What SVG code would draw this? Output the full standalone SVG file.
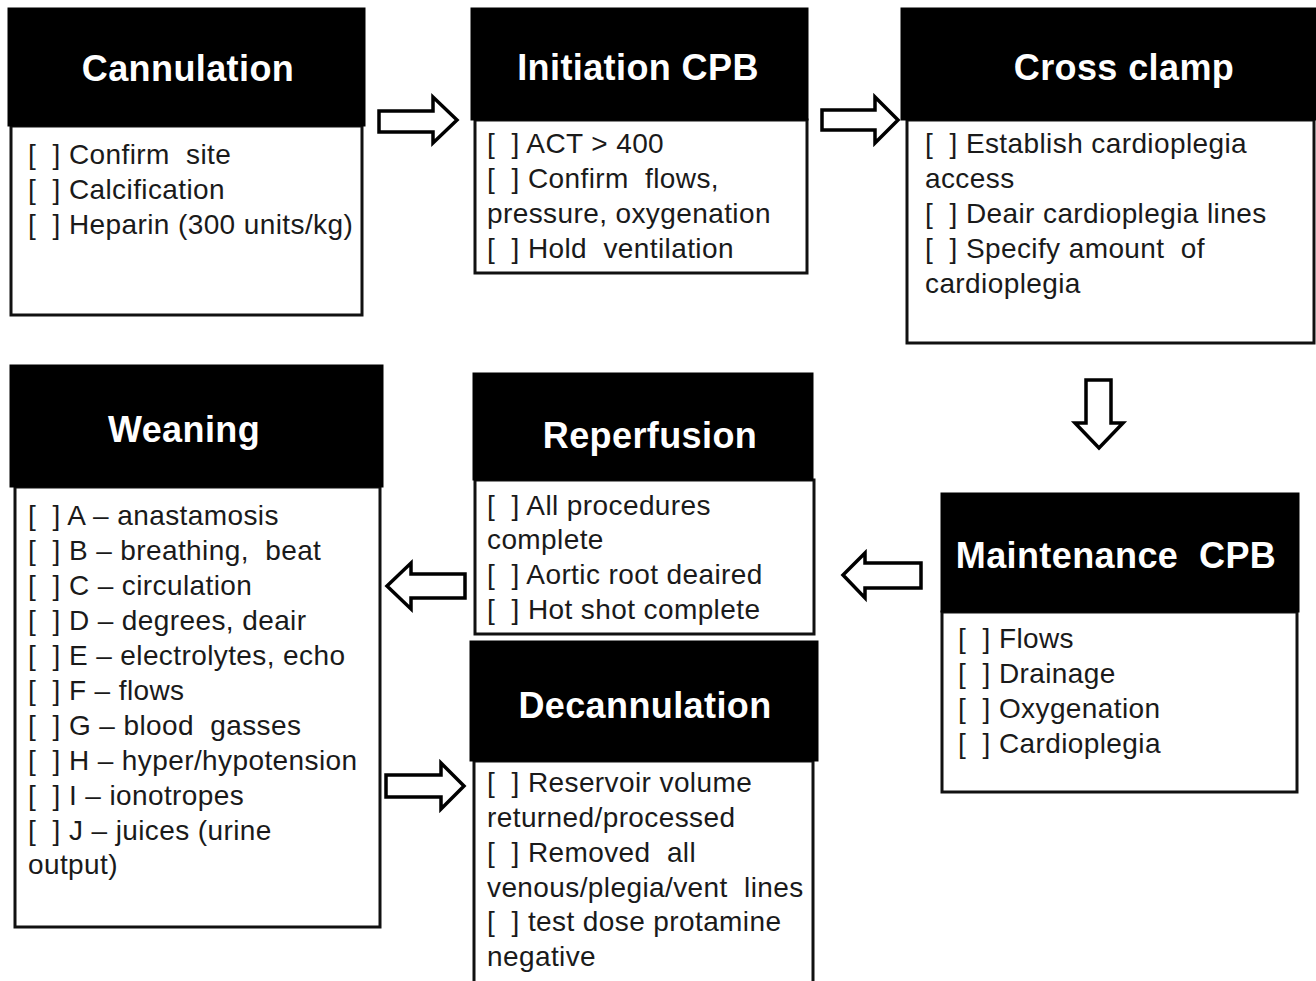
<svg xmlns="http://www.w3.org/2000/svg" width="1316" height="981" viewBox="0 0 1316 981">
<style>
.hdr{fill:#000;stroke:#000;stroke-width:1}
.body{fill:#fff;stroke:#111;stroke-width:3}
.title{font-family:"Liberation Sans",Arial,sans-serif;font-weight:bold;font-size:36px;fill:#fff;text-anchor:middle;letter-spacing:0.4px}
.item{font-family:"Liberation Sans",Arial,sans-serif;font-size:28px;fill:#1a1a1a;white-space:pre;letter-spacing:0.4px}
.arrow{fill:#fff;stroke:#000;stroke-width:3.5;stroke-linejoin:miter}
</style>
<rect width="1316" height="981" fill="#fff"/>
<g id="connectors">
<polygon class="arrow" points="379,111 433,111 433,97 457,120 433,143 433,132 379,132"/>
<polygon class="arrow" points="822,110 875,110 875,97 898,120 875,143 875,130 822,130"/>
<polygon class="arrow" points="1086,380 1111,380 1111,423 1123,423 1099,448 1075,423 1086,423"/>
<polygon class="arrow" points="921,563 865,563 865,553 843,575 865,598 865,588 921,588"/>
<polygon class="arrow" points="465,574 411,574 411,563 387,586 411,609 411,598 465,598"/>
<polygon class="arrow" points="386,775 441,775 441,763 464,786 441,809 441,797 386,797"/>
</g>
<g id="cannulation">
<rect class="body" x="11" y="126" width="351" height="189"/>
<rect class="hdr" x="8" y="8" width="357" height="118"/>
<text class="title" x="188" y="81">Cannulation</text>
<text class="item" xml:space="preserve" x="28" y="164">[  ] Confirm  site</text>
<text class="item" xml:space="preserve" x="28" y="199">[  ] Calcification</text>
<text class="item" xml:space="preserve" x="28" y="234">[  ] Heparin (300 units/kg)</text>
</g>
<g id="initiation">
<rect class="body" x="475" y="120" width="332" height="153"/>
<rect class="hdr" x="471" y="8" width="337" height="112"/>
<text class="title" x="638" y="80">Initiation CPB</text>
<text class="item" xml:space="preserve" x="487" y="153">[  ] ACT &gt; 400</text>
<text class="item" xml:space="preserve" x="487" y="188">[  ] Confirm  flows,</text>
<text class="item" xml:space="preserve" x="487" y="223">pressure, oxygenation</text>
<text class="item" xml:space="preserve" x="487" y="258">[  ] Hold  ventilation</text>
</g>
<g id="crossclamp">
<rect class="body" x="907" y="120" width="407" height="223"/>
<rect class="hdr" x="901" y="8" width="415" height="112"/>
<text class="title" x="1124" y="80">Cross clamp</text>
<text class="item" xml:space="preserve" x="925" y="153">[  ] Establish cardioplegia</text>
<text class="item" xml:space="preserve" x="925" y="188">access</text>
<text class="item" xml:space="preserve" x="925" y="223">[  ] Deair cardioplegia lines</text>
<text class="item" xml:space="preserve" x="925" y="258">[  ] Specify amount  of</text>
<text class="item" xml:space="preserve" x="925" y="293">cardioplegia</text>
</g>
<g id="maintenance">
<rect class="body" x="942" y="612" width="355" height="180"/>
<rect class="hdr" x="941" y="493" width="358" height="119"/>
<text class="title" xml:space="preserve" style="white-space:pre" x="1116" y="568">Maintenance  CPB</text>
<text class="item" xml:space="preserve" x="958" y="648">[  ] Flows</text>
<text class="item" xml:space="preserve" x="958" y="683">[  ] Drainage</text>
<text class="item" xml:space="preserve" x="958" y="718">[  ] Oxygenation</text>
<text class="item" xml:space="preserve" x="958" y="753">[  ] Cardioplegia</text>
</g>
<g id="reperfusion">
<rect class="body" x="475" y="480" width="339" height="154"/>
<rect class="hdr" x="473" y="373" width="340" height="107"/>
<text class="title" x="650" y="448">Reperfusion</text>
<text class="item" xml:space="preserve" x="487" y="515">[  ] All procedures</text>
<text class="item" xml:space="preserve" x="487" y="549">complete</text>
<text class="item" xml:space="preserve" x="487" y="584">[  ] Aortic root deaired</text>
<text class="item" xml:space="preserve" x="487" y="619">[  ] Hot shot complete</text>
</g>
<g id="weaning">
<rect class="body" x="15" y="487" width="365" height="440"/>
<rect class="hdr" x="10" y="365" width="373" height="122"/>
<text class="title" x="184" y="442">Weaning</text>
<text class="item" xml:space="preserve" x="28" y="525">[  ] A – anastamosis</text>
<text class="item" xml:space="preserve" x="28" y="560">[  ] B – breathing,  beat</text>
<text class="item" xml:space="preserve" x="28" y="595">[  ] C – circulation</text>
<text class="item" xml:space="preserve" x="28" y="630">[  ] D – degrees, deair</text>
<text class="item" xml:space="preserve" x="28" y="665">[  ] E – electrolytes, echo</text>
<text class="item" xml:space="preserve" x="28" y="700">[  ] F – flows</text>
<text class="item" xml:space="preserve" x="28" y="735">[  ] G – blood  gasses</text>
<text class="item" xml:space="preserve" x="28" y="770">[  ] H – hyper/hypotension</text>
<text class="item" xml:space="preserve" x="28" y="805">[  ] I – ionotropes</text>
<text class="item" xml:space="preserve" x="28" y="840">[  ] J – juices (urine</text>
<text class="item" xml:space="preserve" x="28" y="874">output)</text>
</g>
<g id="decannulation">
<rect class="body" x="474" y="761" width="339" height="230"/>
<rect class="hdr" x="470" y="641" width="348" height="120"/>
<text class="title" x="645" y="718">Decannulation</text>
<text class="item" xml:space="preserve" x="487" y="792">[  ] Reservoir volume</text>
<text class="item" xml:space="preserve" x="487" y="827">returned/processed</text>
<text class="item" xml:space="preserve" x="487" y="862">[  ] Removed  all</text>
<text class="item" xml:space="preserve" x="487" y="897">venous/plegia/vent  lines</text>
<text class="item" xml:space="preserve" x="487" y="931">[  ] test dose protamine</text>
<text class="item" xml:space="preserve" x="487" y="966">negative</text>
</g>
</svg>
